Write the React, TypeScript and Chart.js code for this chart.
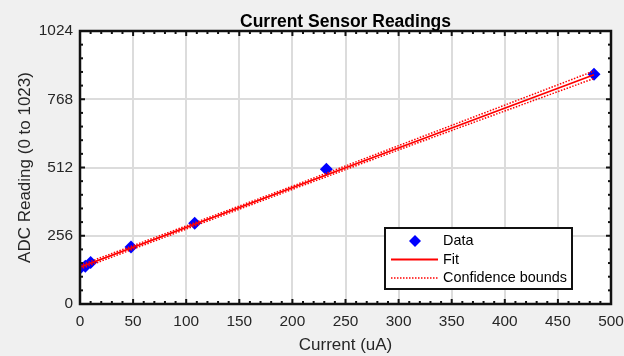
import React, { useEffect, useRef } from "react";
import { Chart, registerables } from "chart.js";

Chart.register(...registerables);

const dataX = [0, 5, 10, 48, 108, 232, 484];
const dataY = [134, 142, 156, 214, 303, 505, 862];
const fitX = [0, 484];
const fitY = [138, 860];
const boundX = [0, 100, 200, 300, 400, 484];
const upperY = [145, 293, 442, 594, 746, 874];
const lowerY = [131, 281, 430, 578, 724, 846];
const xTicks = [0, 50, 100, 150, 200, 250, 300, 350, 400, 450, 500];
const yTicks = [0, 256, 512, 768, 1024];
const titleText = "Current Sensor Readings";
const xLabel = "Current (uA)";
const yLabel = "ADC Reading (0 to 1023)";
const legendLabels = ["Data", "Fit", "Confidence bounds"];

const FONT = "'Liberation Sans', Arial, Helvetica, sans-serif";

const bgPlugin = {
  id: "bg",
  beforeDraw(chart: any) {
    const { ctx, chartArea: a } = chart;
    ctx.save();
    ctx.fillStyle = "#ffffff";
    ctx.fillRect(a.left, a.top, a.right - a.left, a.bottom - a.top);
    ctx.restore();
  },
};

const framePlugin = {
  id: "frame",
  afterDatasetsDraw(chart: any) {
    const { ctx, chartArea: a, scales } = chart;
    const x = scales.x;
    const y = scales.y;
    ctx.save();
    ctx.strokeStyle = "#111111";
    ctx.lineWidth = 2;
    const tick = (x1: number, y1: number, x2: number, y2: number) => {
      ctx.beginPath();
      ctx.moveTo(x1, y1);
      ctx.lineTo(x2, y2);
      ctx.stroke();
    };
    for (let i = 0; i < xTicks.length; i++) {
      const px = x.getPixelForValue(xTicks[i]);
      tick(px, a.bottom, px, a.bottom - 5);
      tick(px, a.top, px, a.top + 5);
      if (i < xTicks.length - 1) {
        const st = (xTicks[i + 1] - xTicks[i]) / 5;
        for (let k = 1; k < 5; k++) {
          const mx = x.getPixelForValue(xTicks[i] + k * st);
          tick(mx, a.bottom, mx, a.bottom - 3);
          tick(mx, a.top, mx, a.top + 3);
        }
      }
    }
    for (let i = 0; i < yTicks.length; i++) {
      const py = y.getPixelForValue(yTicks[i]);
      tick(a.left, py, a.left + 5, py);
      tick(a.right, py, a.right - 5, py);
      if (i < yTicks.length - 1) {
        const st = (yTicks[i + 1] - yTicks[i]) / 5;
        for (let k = 1; k < 5; k++) {
          const my = y.getPixelForValue(yTicks[i] + k * st);
          tick(a.left, my, a.left + 3, my);
          tick(a.right, my, a.right - 3, my);
        }
      }
    }
    ctx.lineWidth = 2.5;
    ctx.strokeStyle = "#111111";
    ctx.strokeRect(a.left, a.top, a.right - a.left, a.bottom - a.top);

    ctx.fillStyle = "#000000";
    ctx.font = `bold 17.5px ${FONT}`;
    ctx.textAlign = "center";
    ctx.textBaseline = "alphabetic";
    ctx.fillText(titleText, (a.left + a.right) / 2, 27);

    ctx.fillStyle = "#262626";
    ctx.font = `17px ${FONT}`;
    ctx.textBaseline = "middle";
    ctx.fillText(xLabel, (a.left + a.right) / 2, 345);

    ctx.save();
    ctx.translate(25, (a.top + a.bottom) / 2);
    ctx.rotate(-Math.PI / 2);
    ctx.fillText(yLabel, 0, 0);
    ctx.restore();

    const lx = 385, ly = 228, lw = 187, lh = 61;
    ctx.fillStyle = "#ffffff";
    ctx.fillRect(lx, ly, lw, lh);
    ctx.lineWidth = 2;
    ctx.strokeStyle = "#111111";
    ctx.strokeRect(lx, ly, lw, lh);
    const rows = [241, 259.5, 278];
    ctx.fillStyle = "#0000ff";
    ctx.beginPath();
    ctx.moveTo(415, rows[0] - 6);
    ctx.lineTo(421, rows[0]);
    ctx.lineTo(415, rows[0] + 6);
    ctx.lineTo(409, rows[0]);
    ctx.closePath();
    ctx.fill();
    ctx.strokeStyle = "#ff0000";
    ctx.lineWidth = 1.8;
    ctx.beginPath();
    ctx.moveTo(391, rows[1]);
    ctx.lineTo(438, rows[1]);
    ctx.stroke();
    ctx.lineWidth = 1.5;
    ctx.setLineDash([1.5, 1.5]);
    ctx.beginPath();
    ctx.moveTo(391, rows[2]);
    ctx.lineTo(438, rows[2]);
    ctx.stroke();
    ctx.setLineDash([]);
    ctx.fillStyle = "#000000";
    ctx.font = `14.4px ${FONT}`;
    ctx.textAlign = "left";
    ctx.textBaseline = "middle";
    legendLabels.forEach((t, i) => ctx.fillText(t, 443, rows[i] + 0.5));
    ctx.restore();
  },
};

export default function App() {
  const ref = useRef<HTMLCanvasElement | null>(null);
  useEffect(() => {
    document.body.style.margin = "0";
    const canvas = ref.current;
    if (!canvas) return;
    const chart = new Chart(canvas, {
      type: "scatter",
      data: {
        datasets: [
          {
            label: legendLabels[0],
            data: dataX.map((v, i) => ({ x: v, y: dataY[i] })),
            pointStyle: "rectRot",
            pointRadius: 6.5,
            backgroundColor: "#0000ff",
            borderColor: "#0000ff",
            borderWidth: 0,
            showLine: false,
            order: 3,
          },
          {
            label: legendLabels[1],
            data: fitX.map((v, i) => ({ x: v, y: fitY[i] })),
            showLine: true,
            borderColor: "#ff0000",
            borderWidth: 1.8,
            pointRadius: 0,
            order: 1,
          },
          {
            label: legendLabels[2],
            data: boundX.map((v, i) => ({ x: v, y: upperY[i] })),
            showLine: true,
            borderColor: "#ff0000",
            borderWidth: 1.5,
            borderDash: [1.5, 1.5],
            pointRadius: 0,
            order: 2,
          },
          {
            label: "lower",
            data: boundX.map((v, i) => ({ x: v, y: lowerY[i] })),
            showLine: true,
            borderColor: "#ff0000",
            borderWidth: 1.5,
            borderDash: [1.5, 1.5],
            pointRadius: 0,
            order: 2,
          },
        ],
      },
      options: {
        animation: false,
        responsive: false,
        maintainAspectRatio: false,
        layout: { padding: { top: 31, right: 13, bottom: 0, left: 0 } },
        plugins: { legend: { display: false }, tooltip: { enabled: false }, title: { display: false } },
        scales: {
          x: {
            type: "linear",
            min: 0,
            max: 500,
            afterBuildTicks: (s: any) => {
              s.ticks = xTicks.map((v) => ({ value: v }));
            },
            afterFit: (s: any) => {
              s.height = 52;
              s.paddingLeft = 0;
              s.paddingRight = 0;
            },
            ticks: {
              color: "#262626",
              font: { family: FONT, size: 15.4 },
              padding: 9,
              maxRotation: 0,
              autoSkip: false,
              callback: (v: any) => String(v),
            },
            grid: { color: "#dcdcdc", lineWidth: 2, drawTicks: false },
            border: { display: false },
          },
          y: {
            type: "linear",
            min: 0,
            max: 1024,
            afterBuildTicks: (s: any) => {
              s.ticks = yTicks.map((v) => ({ value: v }));
            },
            afterFit: (s: any) => {
              s.width = 80;
              s.paddingTop = 0;
              s.paddingBottom = 0;
            },
            ticks: {
              color: "#262626",
              font: { family: FONT, size: 15.4 },
              padding: 7,
              autoSkip: false,
              callback: (v: any) => String(v),
            },
            grid: { color: "#dcdcdc", lineWidth: 2, drawTicks: false },
            border: { display: false },
          },
        },
      },
      plugins: [bgPlugin, framePlugin],
    } as any);
    return () => chart.destroy();
  }, []);
  return (
    <div style={{ width: 624, height: 356, background: "#f0f0f0", position: "relative" }}>
      <canvas ref={ref} width={624} height={356} style={{ display: "block" }} />
    </div>
  );
}
